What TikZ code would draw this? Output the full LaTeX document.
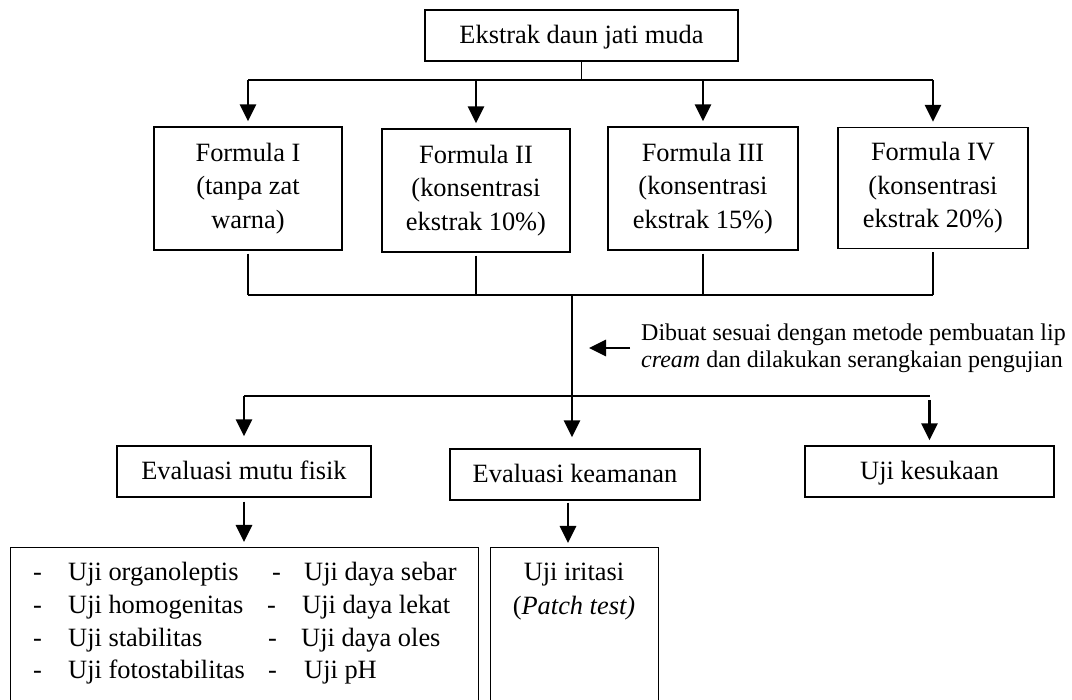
\documentclass[tikz,border=0pt]{standalone}
\usepackage{fontspec}
\setmainfont{Liberation Serif}
\usetikzlibrary{arrows.meta}
\begin{document}
\begin{tikzpicture}[x=1pt,y=-1pt,
  every node/.style={font=\fontsize{26.4}{33.5}\selectfont},
  box/.style={draw, line width=1.3pt, inner sep=0pt, align=center},
  onebox/.style={box, text height=18pt, text depth=1pt},
  ln/.style={line width=1.2pt},
  arr/.style={line width=2.8pt, -{Triangle[width=16pt,length=17pt]}},
  txt/.style={inner sep=0pt},
  notefont/.style={font=\fontsize{24}{27}\selectfont}]
\useasboundingbox (0,0) rectangle (1072,700);
\clip (0,0) rectangle (1072,700);
\fill[white] (0,0) rectangle (1072,700);

% top
\node[onebox, minimum width=313, minimum height=51] (top) at (581.5,35.5) {Ekstrak daun jati muda};
\coordinate (bus1) at (0,80);
\coordinate (bus2) at (0,295);
\coordinate (hub2) at (572,295);
\coordinate (hub3) at (572,396);
\coordinate (bus3) at (0,396);

% formulas
\node[box, minimum width=188, minimum height=123] (f1) at (248,188.5) {Formula I\\(tanpa zat\\warna)};
\node[box, minimum width=188, minimum height=123] (f2) at (476,190.5) {Formula II\\(konsentrasi\\ekstrak 10\%)};
\node[box, minimum width=190, minimum height=123] (f3) at (703,188.5) {Formula III\\(konsentrasi\\ekstrak 15\%)};
\node[box, minimum width=190, minimum height=121] (f4) at (933,188) {Formula IV\\(konsentrasi\\ekstrak 20\%)};

\draw[ln] (top.south) -- (top.south |- bus1);
\draw[ln] (f1.north |- bus1) -- (f4.north |- bus1);
\foreach \n in {f1,f2,f3,f4}{
  \draw[arr, shorten >=5pt] (\n.north |- bus1) -- (\n.north);
  \draw[ln] ([yshift=-3pt]\n.south) -- (\n.south |- bus2);
}
\draw[ln] (f1.south |- bus2) -- (f4.south |- bus2);
\draw[ln] (hub2) -- (hub3);

% note
\node[notefont, anchor=west, align=left, inner ysep=0pt, inner xsep=11pt] (note) at (630,348)
  {Dibuat sesuai dengan metode pembuatan lip\\\textit{cream} dan dilakukan serangkaian pengujian};
\coordinate (notetip) at (589,348);
\draw[arr] (note.west) -- (notetip);

% evaluations
\node[onebox, minimum width=254, minimum height=51] (e1) at (244,471.5) {Evaluasi mutu fisik};
\node[onebox, minimum width=250, minimum height=51] (e2) at (575,474.5) {Evaluasi keamanan};
\node[onebox, minimum width=249, minimum height=51] (e3) at (929.5,471.5) {Uji kesukaan};

\draw[ln] (e1.north |- bus3) -- (e3.north |- bus3);
\draw[arr, shorten >=9pt] (e1.north |- bus3) -- (e1.north);
\draw[arr, shorten >=11pt] (hub3) -- (hub3 |- e2.north);
\draw[arr, shorten >=5pt] ([yshift=-4pt]e3.north |- bus3) -- (e3.north);

% lower boxes
\node[box, anchor=north west, minimum width=468, minimum height=200] (list) at (10,547) {};
\node[box, anchor=north west, minimum width=168, minimum height=200] (irit) at (490,547) {};
\draw[arr, shorten <=4pt, shorten >=5pt] (e1.south) -- (e1.south |- list.north);
\draw[arr, shorten <=2pt, shorten >=4pt] ([xshift=-7pt]e2.south) -- ([xshift=-7pt]e2.south |- irit.north);

\foreach \i/\yy/\a/\dx/\tx/\b in {
  1/581/Uji organoleptis/272/304/Uji daya sebar,
  2/613/Uji homogenitas/267/302/Uji daya lekat,
  3/646/Uji stabilitas/268/301/Uji daya oles,
  4/678/Uji fotostabilitas/268/304/Uji pH}{
  \node[txt, anchor=base west] (da\i) at (33,\yy) {-};
  \node[txt, anchor=base west] (ta\i) at (68,\yy) {\a};
  \node[txt, anchor=base west] (db\i) at (\dx,\yy) {-};
  \node[txt, anchor=base west] (tb\i) at (\tx,\yy) {\b};
}
\node[txt, anchor=north, align=center] (irtxt) at (574,563) {Uji iritasi\\(\textit{Patch test)}};
\end{tikzpicture}
\end{document}
